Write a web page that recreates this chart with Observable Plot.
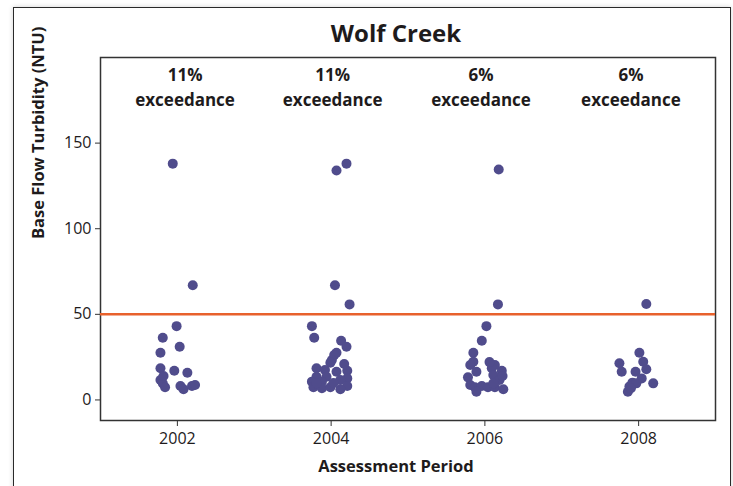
<!DOCTYPE html>
<html>
<head>
<meta charset="utf-8">
<script src="https://cdn.jsdelivr.net/npm/d3@7"></script>
<script src="https://cdn.jsdelivr.net/npm/@observablehq/plot@0.6"></script>
<style>
  html, body { margin: 0; padding: 0; background: #fff; }
  body { width: 733px; height: 486px; position: relative; overflow: hidden; }
  #box { position: absolute; left: 13px; top: 7px; width: 716px; height: 500px;
         border: 1.5px solid #2a2a2a; box-shadow: 0 0 5px rgba(0,0,0,0.18); background: #fff; }
  #chart { position: absolute; left: 0; top: 0; }
</style>
</head>
<body>
<div id="box"></div>
<div id="chart"></div>
<script>
// Assessment periods (x ticks)
const periods = [2002, 2004, 2006, 2008];
const yTicks = [0, 50, 100, 150];
const threshold = 50;
const exceedLabels = ["11%\nexceedance", "11%\nexceedance", "6%\nexceedance", "6%\nexceedance"];
const labelPos = [2002.1, 2004.02, 2005.95, 2007.9];

// Jittered x positions and turbidity values
const x2002 = [2001.94, 2002.20, 2001.99, 2001.81, 2002.03, 2001.78, 2001.78, 2001.96, 2002.13, 2001.78, 2001.81, 2001.84, 2002.04, 2002.08, 2002.19, 2002.23, 2001.82];
const y2002 = [138.0, 67.0, 43.1, 36.3, 31.1, 27.6, 18.5, 17.1, 15.9, 11.7, 9.7, 7.4, 8.2, 6.2, 8.2, 8.7, 14.0];

const x2004 = [2004.07, 2004.20, 2004.05, 2004.24, 2003.75, 2003.78, 2004.13, 2004.20, 2004.07, 2004.04, 2004.01, 2003.99, 2004.17, 2003.81, 2003.92, 2004.21, 2004.07, 2003.81, 2003.94, 2004.21, 2003.75, 2003.88, 2004.12, 2004.21, 2003.77, 2003.88, 2003.99, 2004.12, 2003.81, 2004.03];
const y2004 = [134.0, 138.0, 67.0, 55.8, 43.1, 36.3, 34.6, 31.1, 27.6, 26.2, 23.3, 21.7, 21.0, 18.5, 17.5, 17.1, 16.5, 13.6, 13.6, 12.6, 10.7, 10.7, 11.7, 8.2, 7.4, 6.8, 7.4, 6.2, 9.7, 9.9];

const x2006 = [2006.18, 2006.17, 2006.02, 2005.96, 2005.85, 2005.85, 2005.81, 2005.89, 2005.78, 2006.13, 2006.09, 2006.22, 2006.11, 2006.19, 2005.81, 2005.87, 2005.96, 2006.04, 2006.13, 2006.24, 2005.89, 2006.11, 2006.06, 2006.23];
const y2006 = [134.6, 55.8, 43.1, 34.6, 27.6, 22.3, 20.4, 16.5, 13.2, 20.4, 18.5, 17.1, 14.6, 11.7, 8.7, 7.4, 8.2, 7.4, 7.4, 6.2, 4.8, 9.7, 22.1, 14.0];

const x2008 = [2008.10, 2008.01, 2007.75, 2008.06, 2008.10, 2007.78, 2007.96, 2008.04, 2008.19, 2007.92, 2007.88, 2007.86, 2007.97, 2007.90];
const y2008 = [56.0, 27.6, 21.4, 22.3, 17.9, 16.5, 16.5, 12.6, 9.7, 10.1, 7.8, 4.8, 9.7, 6.8];

const points = [
  ...x2002.map((x, i) => ({x, y: y2002[i]})),
  ...x2004.map((x, i) => ({x, y: y2004[i]})),
  ...x2006.map((x, i) => ({x, y: y2006[i]})),
  ...x2008.map((x, i) => ({x, y: y2008[i]}))
];
const labels = labelPos.map((x, i) => ({x, text: exceedLabels[i]}));

const ink = "#1e1b1c";
const font = "'Open Sans', sans-serif";
const chart = Plot.plot({
  width: 733,
  height: 486,
  marginLeft: 100,
  marginRight: 18,
  marginTop: 57,
  marginBottom: 66,
  style: { fontFamily: font, background: "transparent", color: ink },
  x: { domain: [2001, 2009], label: null },
  y: { domain: [-12, 200], label: null },
  marks: [
    Plot.frame({ stroke: "#333", strokeWidth: 1.5 }),
    Plot.axisX({ ticks: periods, tickFormat: d => String(d), tickSize: 6, tickPadding: 6, fontSize: 16, label: null, stroke: "#333", fill: ink }),
    Plot.axisY({ ticks: yTicks, tickSize: 5, tickPadding: 4, fontSize: 16, label: null, stroke: "#333", fill: ink }),
    Plot.ruleY([threshold], { stroke: "#e8612c", strokeWidth: 2.5 }),
    Plot.dot(points, { x: "x", y: "y", r: 5, fill: "#504c8c", stroke: "none" }),
    Plot.text(labels, { x: "x", text: "text", frameAnchor: "top", lineAnchor: "top", dy: 6, fontSize: 17, fontWeight: "bold", lineHeight: 1.47, fill: ink }),
    Plot.text(["Wolf Creek"], { frameAnchor: "top", dx: -12, dy: -33, lineAnchor: "top", fontSize: 24, fontWeight: "bold", fill: ink }),
    Plot.text(["Assessment Period"], { frameAnchor: "bottom", dx: -12, dy: 51, fontSize: 16.5, fontWeight: "bold", fill: ink }),
    Plot.text(["Base Flow Turbidity (NTU)"], { frameAnchor: "left", dx: -62, rotate: -90, fontSize: 16.5, fontWeight: "bold", fill: ink })
  ]
});
document.getElementById("chart").appendChild(chart);
</script>
</body>
</html>
